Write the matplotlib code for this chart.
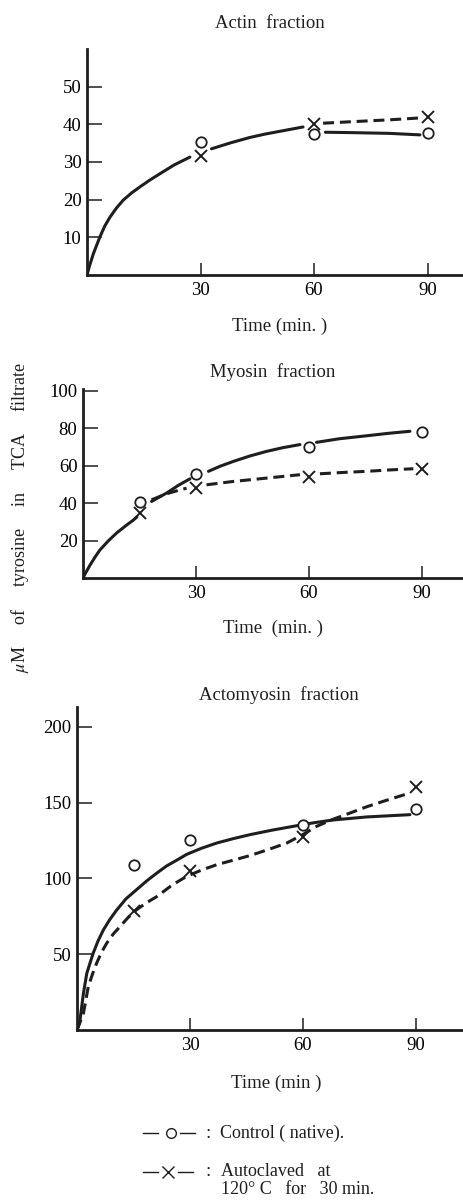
import matplotlib.pyplot as plt
from matplotlib.lines import Line2D

plt.rcParams['font.family'] = ['Liberation Serif', 'DejaVu Serif']
plt.rcParams['mathtext.fontset'] = 'stix'

W, H = 463, 1204

# sampling times (min)
t_pts = [15, 30, 60, 90]

# measured points
actin_t = [30, 60, 90]
actin_ctrl = [35.2, 37.4, 37.8]
actin_auto = [31.5, 40.0, 41.9]

myosin_ctrl = [40.5, 55.5, 70.0, 78.0]
myosin_auto = [35.0, 48.0, 54.0, 58.5]

acto_ctrl = [108.5, 125.0, 135.0, 145.5]
acto_auto = [78.5, 105.0, 127.5, 160.5]

# hand-drawn fit curves
actin_fit_t = [0, 0.6, 1.7, 3.4, 4.7, 6.1, 7.8, 9.6, 11.8, 14, 16.6, 19.3, 23, 27.2]
actin_fit = [0, 2.2, 5.7, 10.1, 13.0, 15.4, 17.8, 19.9, 21.8, 23.4, 25.2, 26.9, 29.2, 31.3]
actin_fit2_t = [32.9, 38, 43, 47, 51.8, 57.1]
actin_fit2 = [33.5, 35.1, 36.5, 37.4, 38.3, 39.3]
actin_ctrl_fit_t = [63, 70, 80, 88]
actin_ctrl_fit = [37.9, 37.8, 37.6, 37.2]
actin_auto_fit_t = [62.4, 70, 80, 88]
actin_auto_fit = [40.3, 40.7, 41.2, 41.7]

myo_fit_t = [0, 0.6, 1.9, 3.2, 4.5, 6.7, 8.9, 11.2, 13.4, 14.3]
myo_fit = [0, 2.4, 7.0, 11.2, 15.0, 19.8, 24.0, 27.7, 31.0, 32.6]
myo_ctrl_fit_t = [18.2, 20.2, 22.2, 25.3, 28.4]
myo_ctrl_fit = [40.9, 43.2, 45.4, 49.5, 53.0]
myo_ctrl_fit2_t = [33.3, 36.5, 39.9, 44.3, 48.8, 53.2, 57.6]
myo_ctrl_fit2 = [57.0, 59.8, 62.3, 65.2, 67.7, 69.7, 71.3]
myo_ctrl_fit3_t = [62, 68, 75.3, 81, 86.8]
myo_ctrl_fit3 = [72.5, 74.4, 76.0, 77.3, 78.4]
myo_auto_fit_t = [18.2, 22.2, 24.9, 27.5]
myo_auto_fit = [41.8, 45.0, 46.6, 48.0]
myo_auto_fit2_t = [32.8, 39.9, 48.8, 57.6]
myo_auto_fit2 = [49.8, 51.6, 53.4, 55.2]
myo_auto_fit3_t = [62.9, 69, 75.3, 81, 87.7]
myo_auto_fit3 = [55.7, 56.4, 57.0, 57.7, 58.4]

acto_ctrl_fit_t = [0, 0.3, 0.8, 1.7, 2.6, 4.3, 5.6, 7.0, 8.7, 10.5, 13.0, 15.8,
                   18.5, 21.2, 23.8, 26.5, 29.1, 33.0, 37.1, 41.5, 45.9,
                   51.6, 57.4, 62.7, 68, 76.9, 88.4]
acto_ctrl_fit = [0, 2, 6.6, 24, 37.4, 50.7, 58.8, 66, 72.8, 79, 86.5, 92.5,
                 98.3, 103.5, 108.2, 112, 115.8, 119.8, 123.3, 126.2, 128.8,
                 131.7, 134.3, 136.6, 138.5, 140.5, 142]
acto_auto_fit_t = [0, 0.8, 1.7, 3.0, 4.1, 5.2, 6.5, 7.9, 9.6, 11.4, 13.5, 15.8,
                   18.5, 21.2, 25.2, 29.1, 33.0, 37.1, 41.5, 45.9, 50.8,
                   55.7, 59.7, 63.6, 68, 72.5, 76.9, 81.3, 84.9, 88.4]
acto_auto_fit = [0, 5, 11, 28.6, 36.8, 44, 51.2, 57.3, 63.2, 68.2, 74.0, 79.3,
                 84.0, 88.0, 95.5, 101.3, 105.4, 109, 112.0, 115.0, 119.0,
                 123.3, 128.5, 134.3, 139.0, 143.1, 147.2, 150.8, 153.6, 156.3]

INK = '#1e1e1e'
DASH = (3.6, 1.9)


def make_axes(fig, left, bottom_px, top_px, xmax, ymax, yticks):
    l = left / W
    b = 1 - bottom_px / H
    h = (bottom_px - top_px) / H
    ax = fig.add_axes([l, b, 1 - l, h])
    ax.set_xlim(0, xmax)
    ax.set_ylim(0, ymax)
    for s in ['top', 'right']:
        ax.spines[s].set_visible(False)
    for s in ['left', 'bottom']:
        ax.spines[s].set_linewidth(2.0)
        ax.spines[s].set_color(INK)
    ax.set_xticks([30, 60, 90])
    ax.set_yticks(yticks)
    ax.tick_params(axis='x', direction='in', length=8.5, width=1.1, color=INK,
                   labelsize=13.5, pad=5)
    ax.tick_params(axis='y', direction='in', length=11, width=1.1, color=INK,
                   labelsize=13.5, pad=4)
    ax.patch.set_alpha(0)
    return ax


def curve(ax, t, y, dashed=False):
    if dashed:
        ax.plot(t, y, color=INK, lw=2.2, dashes=DASH, solid_capstyle='butt')
    else:
        ax.plot(t, y, color=INK, lw=2.2, solid_capstyle='round',
                solid_joinstyle='round')


def points(ax, t, yc, ya):
    ax.plot(t, yc, 'o', ms=7.5, mfc='white', mec=INK, mew=1.3, zorder=5)
    ax.plot(t, ya, 'x', ms=9, mec=INK, mew=1.4, zorder=5)


def ftext(x, y, s, **kw):
    fig.text(x / W, 1 - y / H, s, ha=kw.pop('ha', 'center'), va='center',
             fontsize=kw.pop('fontsize', 13.5), color=INK, **kw)


def fline(x0, x1, y):
    fig.add_artist(Line2D([x0 / W, x1 / W], [1 - y / H, 1 - y / H],
                          color=INK, lw=1.0))


fig = plt.figure(figsize=(W / 100, H / 100), dpi=100)

# Actin
ax1 = make_axes(fig, 87, 275, 49, (W - 87) / 113.5 * 30, 60, [10, 20, 30, 40, 50])
curve(ax1, actin_fit_t, actin_fit)
curve(ax1, actin_fit2_t, actin_fit2)
curve(ax1, actin_ctrl_fit_t, actin_ctrl_fit)
curve(ax1, actin_auto_fit_t, actin_auto_fit, dashed=True)
points(ax1, actin_t, actin_ctrl, actin_auto)

# Myosin
ax2 = make_axes(fig, 83, 578, 389, (W - 83) / 113.0 * 30, 101, [20, 40, 60, 80, 100])
curve(ax2, myo_fit_t, myo_fit)
curve(ax2, myo_ctrl_fit_t, myo_ctrl_fit)
curve(ax2, myo_ctrl_fit2_t, myo_ctrl_fit2)
curve(ax2, myo_ctrl_fit3_t, myo_ctrl_fit3)
curve(ax2, myo_auto_fit_t, myo_auto_fit, dashed=True)
curve(ax2, myo_auto_fit2_t, myo_auto_fit2, dashed=True)
curve(ax2, myo_auto_fit3_t, myo_auto_fit3, dashed=True)
points(ax2, t_pts, myosin_ctrl, myosin_auto)

# Actomyosin
ax3 = make_axes(fig, 77, 1030, 707, (W - 77) / 113.0 * 30, 213, [50, 100, 150, 200])
curve(ax3, acto_ctrl_fit_t, acto_ctrl_fit)
curve(ax3, acto_auto_fit_t, acto_auto_fit, dashed=True)
points(ax3, t_pts, acto_ctrl, acto_auto)

# titles and axis texts
ftext(270, 23, 'Actin  fraction')
ftext(280, 326, 'Time (min. )')
ftext(273, 372, 'Myosin  fraction')
ftext(273, 628, 'Time  (min. )')
ftext(279, 695, 'Actomyosin  fraction')
ftext(276, 1083, 'Time (min )')
ftext(20, 518, r'$\mu$M     of     tyrosine     in     TCA     filtrate',
      rotation=90, fontsize=13)

# legend
fline(143, 158, 1133)
fline(180, 195, 1133)
fig.add_artist(Line2D([171 / W], [1 - 1133 / H], marker='o', ms=7, mfc='white',
                      mec=INK, mew=1.0, ls='none'))
fline(143, 158, 1172)
fline(178, 193, 1172)
fig.add_artist(Line2D([168 / W], [1 - 1172 / H], marker='x', ms=8, mec=INK,
                      mew=1.0, ls='none'))
ftext(208, 1133, ':', fontsize=14)
ftext(208, 1172, ':', fontsize=14)
ftext(220, 1133, 'Control ( native).', ha='left', fontsize=13)
ftext(221, 1172, 'Autoclaved   at', ha='left', fontsize=13)
ftext(221, 1189, '120° C   for   30 min.', ha='left', fontsize=13)

fig.savefig('out.png', dpi=100)
